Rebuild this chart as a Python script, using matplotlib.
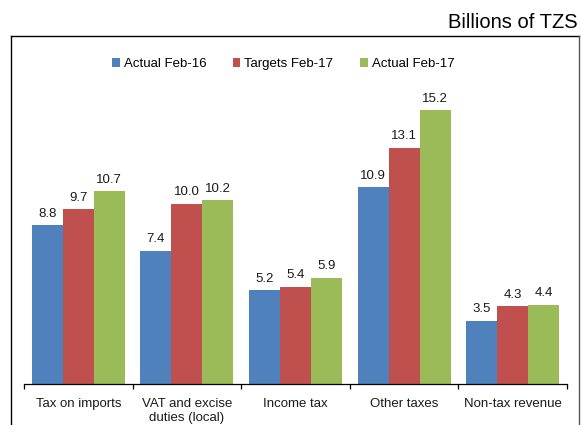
import matplotlib
matplotlib.use("Agg")
import matplotlib.pyplot as plt
import numpy as np
from matplotlib.lines import Line2D

plt.rcParams['font.family'] = ['Liberation Sans', 'DejaVu Sans']

categories = ["Tax on imports", "VAT and excise\nduties (local)", "Income tax", "Other taxes", "Non-tax revenue"]
series_names = ["Actual Feb-16", "Targets Feb-17", "Actual Feb-17"]
actual_feb16 = [8.8, 7.4, 5.2, 10.9, 3.5]
targets_feb17 = [9.7, 10.0, 5.4, 13.1, 4.3]
actual_feb17 = [10.7, 10.2, 5.9, 15.2, 4.4]
colors = ["#4F81BD", "#C0504D", "#9BBB59"]

W, H = 581, 425
fig = plt.figure(figsize=(W / 100, H / 100), dpi=100)
ax = fig.add_axes([24 / W, (H - 384) / H, 543 / W, (384 - 77.5) / H])

x = np.arange(len(categories))
bw = 0.285
series = [actual_feb16, targets_feb17, actual_feb17]
for i, (vals, name, c) in enumerate(zip(series, series_names, colors)):
    pos = x + (i - 1) * bw
    bars = ax.bar(pos, vals, bw, color=c, label=name, edgecolor='none', zorder=2)
    for p, v in zip(pos, vals):
        ax.text(p, v + 0.3, f"{v:.1f}", ha='center', va='bottom', fontsize=9.5, color='#1a1a1a')

ax.set_xlim(-0.5, len(categories) - 0.5)
ax.set_ylim(0, 17)
for s in ['top', 'right', 'left']:
    ax.spines[s].set_visible(False)
ax.spines['bottom'].set_color('#000000')
ax.spines['bottom'].set_linewidth(0.9)
ax.set_yticks([])
ax.set_xticks(x)
ax.set_xticklabels(categories, fontsize=9.5, color='#1a1a1a', linespacing=1.2)
ax.tick_params(axis='x', which='major', length=0, pad=10)
ax.set_xticks(np.arange(-0.5, len(categories), 1.0), minor=True)
ax.tick_params(axis='x', which='minor', length=3.5, direction='out', width=0.9)

leg = fig.legend(loc='center', bbox_to_anchor=(283 / W, 1 - 64 / H), ncol=3, frameon=False,
                 fontsize=9.5, handlelength=0.6, handleheight=0.6, handletextpad=0.3,
                 columnspacing=2.0)

fig.text(578 / W, 1 - 22 / H, "Billions of TZS", ha='right', va='center', fontsize=14.5, color='#000000')

# outer frame
fig.add_artist(Line2D([11 / W, 11 / W], [0, 1 - 36 / H], transform=fig.transFigure, color='#000000', lw=1.0))
fig.add_artist(Line2D([11 / W, 579 / W], [1 - 36 / H, 1 - 36 / H], transform=fig.transFigure, color='#000000', lw=1.0))
fig.add_artist(Line2D([579 / W, 579 / W], [0, 1 - 36 / H], transform=fig.transFigure, color='#555555', lw=1.0))

fig.savefig("out.png", dpi=100)
